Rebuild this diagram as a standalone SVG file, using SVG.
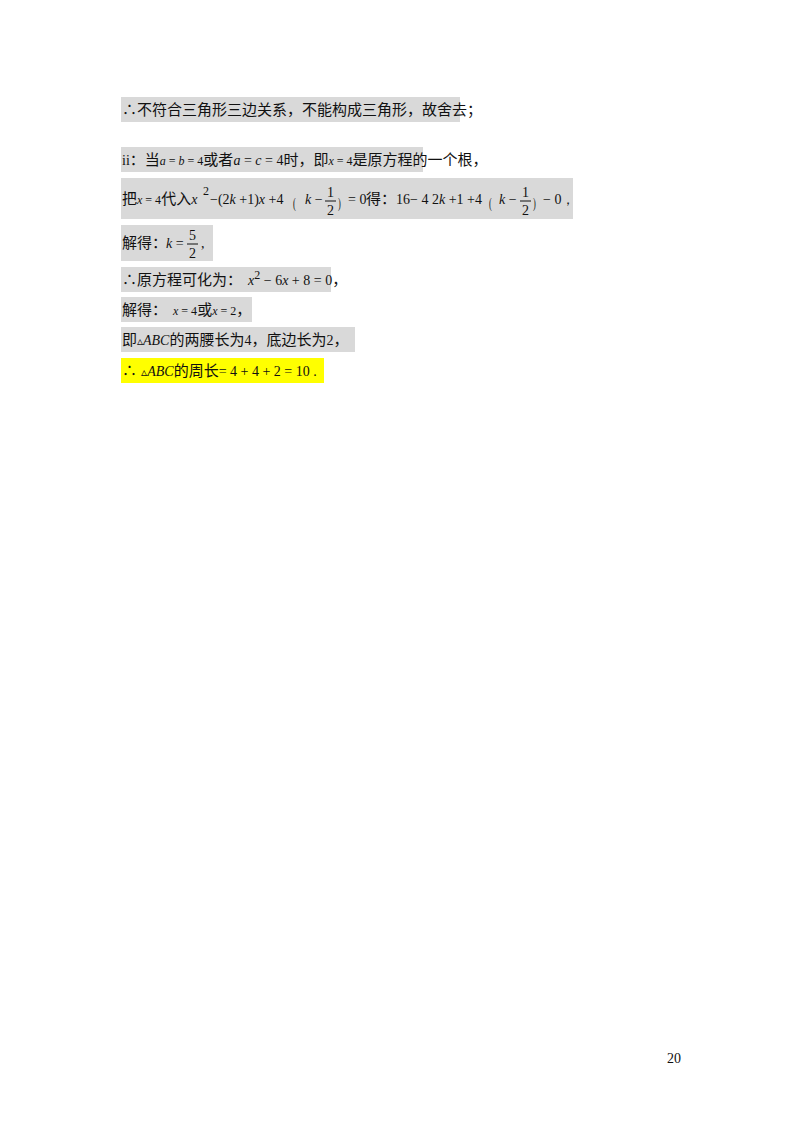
<svg xmlns="http://www.w3.org/2000/svg" width="800" height="1132" viewBox="0 0 800 1132">
<style>
.bg{fill:#d9d9d9}
.t{font-family:"Liberation Sans","Noto Sans CJK SC",sans-serif;font-size:15px;fill:#111}
.m{font-family:"Liberation Serif",serif;font-size:14px;fill:#111}
.i{font-style:italic}
.s{font-size:12px}
</style>
<rect width="800" height="1132" fill="#fff"/>
<rect class="bg" x="121" y="97" width="339" height="25"/>
<text class="t" x="122" y="115">∴不符合三角形三边关系，不能构成三角形，故舍去；</text>
<rect class="bg" x="121" y="147" width="302" height="25"/>
<text class="t" x="122" y="165"><tspan class="m" fill="#555">ii</tspan>：当<tspan class="m s"><tspan class="i">a</tspan> = <tspan class="i">b</tspan> = 4</tspan>或者<tspan class="m"><tspan class="i">a</tspan> = <tspan class="i">c</tspan> = 4</tspan>时，即<tspan class="m s"><tspan class="i">x</tspan> = 4</tspan>是原方程的一个根，</text>
<rect class="bg" x="121" y="178" width="452" height="41"/>
<text class="t" x="122" y="204">把<tspan class="m s"><tspan class="i">x</tspan> = 4</tspan>代入<tspan class="m"><tspan class="i">x</tspan></tspan></text>
<text class="m s" x="203" y="195">2</text>
<text class="m" x="210" y="204">−(2<tspan class="i">k</tspan> +1)<tspan class="i">x</tspan> +4</text>
<text class="m" x="293" y="208" font-size="34" transform="scale(0.6 1)" transform-origin="293 204">(</text>
<text class="m" x="305" y="204"><tspan class="i">k</tspan> −</text>
<text class="m" x="327" y="197">1</text><line x1="325" y1="201" x2="336" y2="201" stroke="#111"/><text class="m" x="327" y="215">2</text>
<text class="m" x="338" y="208" font-size="34" transform="scale(0.6 1)" transform-origin="338 204">)</text>
<text class="m" x="348" y="204">= 0</text>
<text class="t" x="366" y="204">得：</text>
<text class="m" x="396" y="204">16− 4  2<tspan class="i">k</tspan> +1  +4</text>
<text class="m" x="489" y="208" font-size="34" transform="scale(0.6 1)" transform-origin="489 204">(</text>
<text class="m" x="499" y="204"><tspan class="i">k</tspan> −</text>
<text class="m" x="522" y="197">1</text><line x1="520" y1="201" x2="531" y2="201" stroke="#111"/><text class="m" x="522" y="215">2</text>
<text class="m" x="533" y="208" font-size="34" transform="scale(0.6 1)" transform-origin="533 204">)</text>
<text class="m" x="543" y="204">− 0，</text>
<rect class="bg" x="121" y="225" width="92" height="36"/>
<text class="t" x="122" y="248">解得：</text>
<text class="m" x="166" y="248"><tspan class="i">k</tspan> =</text>
<text class="m" x="189" y="240">5</text><line x1="187" y1="244" x2="198" y2="244" stroke="#111"/><text class="m" x="189" y="258">2</text>
<text class="m" x="201" y="248">,</text>
<rect class="bg" x="121" y="267" width="210" height="25"/>
<text class="t" x="122" y="285">∴原方程可化为：<tspan class="m" dx="6"><tspan class="i">x</tspan><tspan class="s" dy="-6">2</tspan><tspan dy="6"> − 6<tspan class="i">x</tspan> + 8 = 0</tspan></tspan>，</text>
<rect class="bg" x="121" y="297" width="131" height="25"/>
<text class="t" x="122" y="315">解得：<tspan class="m s" dx="6"><tspan class="i">x</tspan> = 4</tspan>或<tspan class="m s"><tspan class="i">x</tspan> = 2</tspan>，</text>
<rect class="bg" x="121" y="327" width="234" height="25"/>
<text class="t" x="122" y="345">即<tspan class="m"><tspan class="s">▵</tspan><tspan class="i">ABC</tspan></tspan>的两腰长为<tspan class="m">4</tspan>，底边长为<tspan class="m">2</tspan>，</text>
<rect x="121" y="358" width="203" height="25" fill="#ffff00"/>
<text class="t" x="122" y="376">∴ <tspan class="m"><tspan class="s">▵</tspan><tspan class="i">ABC</tspan></tspan>的周长<tspan class="m">= 4 + 4 + 2 = 10 .</tspan></text>
<text class="m" x="667" y="1063">20</text>
</svg>
